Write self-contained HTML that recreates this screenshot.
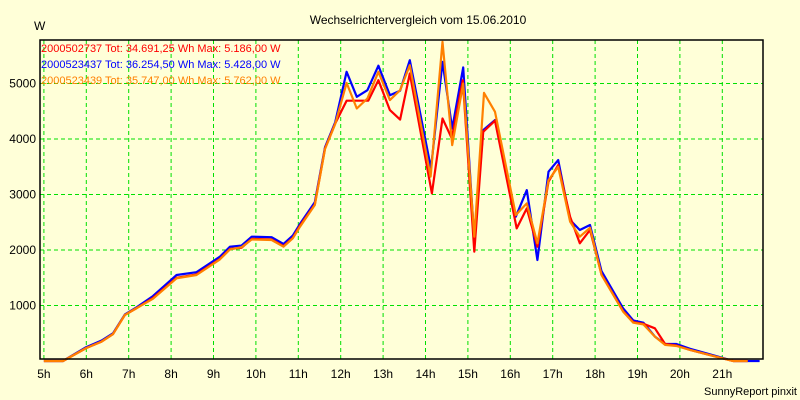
<!DOCTYPE html>
<html><head><meta charset="utf-8"><style>
html,body{margin:0;padding:0;background:#FFFFD8;}
svg{display:block;font-family:"Liberation Sans",sans-serif;}
</style></head><body>
<svg id="chart" width="800" height="400" viewBox="0 0 800 400">
<rect x="0" y="0" width="800" height="400" fill="#FFFFD8"/>
<text x="418" y="24" text-anchor="middle" font-size="12" fill="#000">Wechselrichtervergleich vom 15.06.2010</text>
<text x="34" y="30" font-size="12" fill="#000">W</text>
<g id="grid"></g>
<g id="series"></g>
<rect x="40" y="40" width="723" height="319" fill="none" stroke="#000" stroke-width="1.5"/>
<g id="axes"></g>
<g font-size="11">
<text x="41" y="52" fill="#FF0000">2000502737 Tot: 34.691,25 Wh Max: 5.186,00 W</text>
<text x="41" y="68" fill="#0000FF">2000523437 Tot: 36.254,50 Wh Max: 5.428,00 W</text>
<text x="41" y="84" fill="#FF8000">2000523439 Tot: 35.747,00 Wh Max: 5.762,00 W</text>
</g>
<text x="797" y="395" text-anchor="end" font-size="11" fill="#000">SunnyReport pinxit</text>
</svg>
<script>
const xTicks=[5,6,7,8,9,10,11,12,13,14,15,16,17,18,19,20,21];
const yTicks=[1000,2000,3000,4000,5000];
const redT=[5,5.45,6,6.36,6.63,6.91,7.19,7.57,8.13,8.6,9.15,9.39,9.66,9.9,10.37,10.65,10.87,11.04,11.39,11.63,11.87,12.14,12.65,12.89,13.16,13.4,13.63,14.15,14.4,14.62,14.88,15.15,15.36,15.64,16.15,16.39,16.64,16.9,17.13,17.41,17.64,17.88,18.15,18.66,18.9,19.14,19.41,19.65,19.92,20.24,20.99,21.26,21.6];
const redV=[0,0,234,350,485,830,955,1135,1500,1560,1840,2020,2040,2200,2190,2070,2220,2440,2820,3830,4280,4690,4690,5060,4520,4350,5180,3020,4370,4010,5060,1970,4130,4330,2390,2750,2060,3230,3530,2600,2120,2360,1560,900,700,670,590,306,280,200,50,0,0];
const blueT=[5,5.45,6,6.36,6.63,6.91,7.19,7.57,8.13,8.6,9.15,9.39,9.66,9.9,10.37,10.65,10.87,11.04,11.39,11.63,11.87,12.14,12.38,12.63,12.89,13.16,13.4,13.63,14.13,14.4,14.63,14.89,15.15,15.36,15.64,16.13,16.39,16.64,16.9,17.13,17.41,17.64,17.88,18.15,18.66,18.9,19.14,19.41,19.65,19.92,20.24,20.99,21.26,21.88];
const blueV=[0,0,250,370,500,840,970,1170,1550,1600,1880,2060,2080,2240,2230,2110,2260,2470,2860,3850,4300,5210,4760,4880,5320,4790,4870,5420,3470,5390,4190,5290,2180,4160,4340,2600,3080,1820,3410,3620,2540,2360,2450,1620,950,730,690,440,306,306,220,60,0,0];
const orangeT=[5,5.45,6,6.36,6.63,6.91,7.19,7.57,8.13,8.6,9.15,9.39,9.66,9.9,10.37,10.65,10.87,11.04,11.39,11.63,11.87,12.14,12.38,12.63,12.89,13.16,13.4,13.63,14.12,14.4,14.63,14.89,15.15,15.38,15.64,16.13,16.39,16.64,16.9,17.13,17.41,17.64,17.88,18.15,18.66,18.9,19.14,19.41,19.65,19.92,20.24,20.99,21.26,21.6];
const orangeV=[0,0,234,350,485,830,955,1120,1490,1550,1830,2010,2050,2190,2180,2060,2210,2420,2810,3820,4270,5010,4550,4730,5210,4700,4880,5330,3320,5750,3890,5000,2240,4830,4490,2630,2840,2120,3260,3500,2510,2240,2400,1550,890,690,660,440,290,270,200,50,0,0];
const NS='http://www.w3.org/2000/svg';
function xs(h){return 43.9+(h-5)*42.4;}
function ys(v){return 361-v*0.0555;}
const grid=document.getElementById('grid'),axes=document.getElementById('axes'),ser=document.getElementById('series');
yTicks.forEach(v=>{
  const l=document.createElementNS(NS,'line');
  
  
  l.setAttribute('x1',40);l.setAttribute('x2',763);l.setAttribute('y1',ys(v));l.setAttribute('y2',ys(v));
  l.setAttribute('stroke','#00E000');l.setAttribute('stroke-dasharray','4,3');
  grid.appendChild(l);
  const t=document.createElementNS(NS,'text');
  
  
  t.setAttribute('x',36);t.setAttribute('y',ys(v)+4);t.setAttribute('text-anchor','end');t.setAttribute('font-size','12');
  t.textContent=v;axes.appendChild(t);
});
xTicks.forEach(h=>{
  const l=document.createElementNS(NS,'line');
  
  
  l.setAttribute('x1',xs(h));l.setAttribute('x2',xs(h));l.setAttribute('y1',40);l.setAttribute('y2',359);
  l.setAttribute('stroke','#00E000');l.setAttribute('stroke-dasharray','4,3');
  grid.appendChild(l);
  const t=document.createElementNS(NS,'text');
  
  
  t.setAttribute('x',xs(h));t.setAttribute('y',378);t.setAttribute('text-anchor','middle');t.setAttribute('font-size','12');
  t.textContent=h+'h';axes.appendChild(t);
});
function draw(T,V,color,name){
  const p=document.createElementNS(NS,'polyline');
  
  
  p.setAttribute('points',T.map((h,i)=>xs(h).toFixed(1)+','+ys(V[i]).toFixed(1)).join(' '));
  p.setAttribute('fill','none');p.setAttribute('stroke',color);p.setAttribute('stroke-width','2.2');p.setAttribute('stroke-linejoin','round');
  ser.appendChild(p);
}
draw(blueT,blueV,'#0000FF','line-2000523437');
draw(redT,redV,'#FF0000','line-2000502737');
draw(orangeT,orangeV,'#FF8000','line-2000523439');
</script>
</body></html>
